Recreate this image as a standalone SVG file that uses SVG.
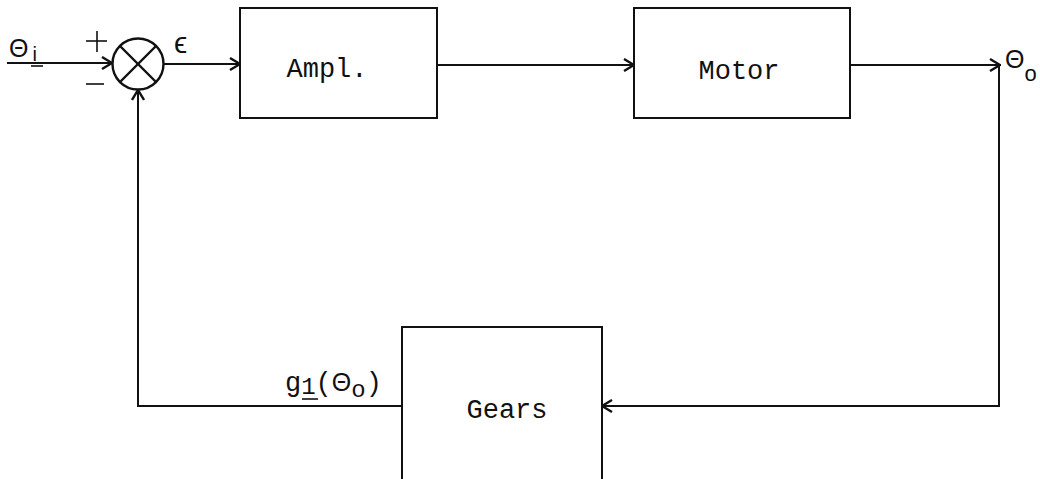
<svg xmlns="http://www.w3.org/2000/svg" width="1040" height="479" viewBox="0 0 1040 479">
<style>
.ln{fill:none;stroke:#111;stroke-width:2;stroke-linecap:square}
.bx{fill:#fff;stroke:#111;stroke-width:2}
.t{font-family:"Liberation Mono","DejaVu Sans Mono",monospace;fill:#111;font-size:27px}
.s{font-family:"Liberation Sans","DejaVu Sans",sans-serif;fill:#111}
</style>
<defs>
<marker id="ah" viewBox="0 0 14 14" refX="13" refY="7" markerWidth="14" markerHeight="14" markerUnits="userSpaceOnUse" orient="auto">
<path d="M3,1 L13,7 L3,13" fill="none" stroke="#111" stroke-width="2.4" stroke-linejoin="miter"/>
</marker>
</defs>
<rect width="1040" height="479" fill="#fff"/>
<g id="connectors">
<line class="ln" x1="8" y1="63" x2="112" y2="63" marker-end="url(#ah)"/>
<line class="ln" x1="164" y1="64" x2="240" y2="64" marker-end="url(#ah)"/>
<line class="ln" x1="437" y1="65" x2="634" y2="65" marker-end="url(#ah)"/>
<polyline class="ln" points="850,65 999,65"/>
<line class="ln" x1="990" y1="65" x2="1000" y2="65" marker-end="url(#ah)"/>
<polyline class="ln" points="999,65 999,406 602,406" marker-end="url(#ah)"/>
<polyline class="ln" points="402,406 138,406 138,90" marker-end="url(#ah)"/>
</g>
<g id="sum">
<circle cx="138" cy="64" r="25.5" fill="#fff" stroke="#111" stroke-width="2.4"/>
<line x1="120" y1="46" x2="156" y2="82" stroke="#111" stroke-width="2.4"/>
<line x1="156" y1="46" x2="120" y2="82" stroke="#111" stroke-width="2.4"/>
<line x1="86" y1="41" x2="107" y2="41" stroke="#111" stroke-width="1.6"/>
<line x1="97" y1="31" x2="97" y2="52" stroke="#111" stroke-width="1.6"/>
<line x1="86" y1="84" x2="104" y2="84" stroke="#111" stroke-width="1.6"/>
<text class="s" x="174" y="53" font-size="30">ϵ</text>
</g>
<g id="input">
<text class="s" x="9" y="57" font-size="25">Θ<tspan font-size="20" dx="4" dy="4">i</tspan></text>
<line x1="31" y1="66" x2="43" y2="66" stroke="#111" stroke-width="1.6"/>
</g>
<g id="ampl">
<rect class="bx" x="240" y="8" width="197" height="110"/>
<text class="t" x="327" y="77" text-anchor="middle">Ampl.</text>
</g>
<g id="motor">
<rect class="bx" x="634" y="8" width="216" height="110"/>
<text class="t" x="739" y="79" text-anchor="middle">Motor</text>
</g>
<g id="output">
<text class="s" x="1005" y="68" font-size="25">Θ<tspan font-size="22" dy="13">o</tspan></text>
</g>
<g id="gears">
<path class="bx" d="M402,480 V327 H602 V480" fill="#fff"/>
<text class="t" x="507" y="418" text-anchor="middle">Gears</text>
</g>
<g id="feedback-label">
<text class="t" x="285" y="391" font-size="28">g<tspan font-size="24" dy="3">1</tspan><tspan dy="-3">(</tspan><tspan class="s" font-size="25">Θ</tspan><tspan font-size="24" dy="6">o</tspan><tspan dy="-6">)</tspan></text>
<line x1="302" y1="399" x2="318" y2="399" stroke="#111" stroke-width="1.6"/>
</g>
</svg>
